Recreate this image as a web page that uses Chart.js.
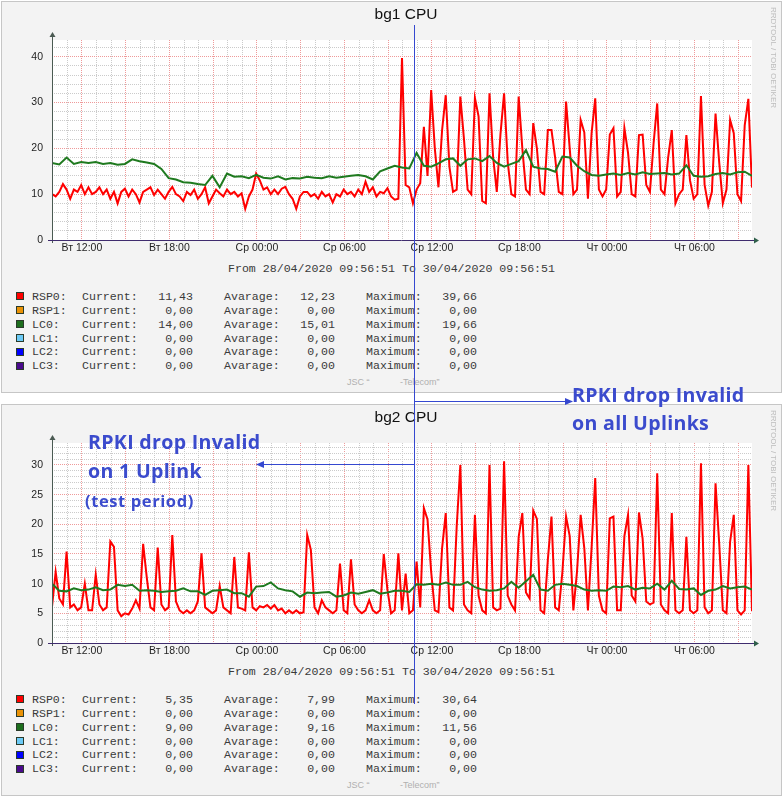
<!DOCTYPE html>
<html lang="ru">
<head>
<meta charset="utf-8">
<title>bg1 / bg2 CPU</title>
<script src="https://cdn.jsdelivr.net/npm/chart.js@4.4.1/dist/chart.umd.min.js"></script>
<style>
  html, body { margin: 0; padding: 0; background: #fff; }
  body { position: relative; width: 784px; height: 799px; overflow: hidden; font-family: "Liberation Sans", Arial, sans-serif; }
  .panel { position: absolute; left: 1px; width: 781px; height: 392px; box-sizing: border-box; background: #f3f3f3; border: 1px solid #c6c6c6; }
  canvas { position: absolute; left: 0; }
  .abs { position: absolute; white-space: pre; }
  .title { width: 200px; text-align: center; font-size: 15.5px; line-height: 18px; color: #111; }
  .mono { font-family: "Liberation Mono", "DejaVu Sans Mono", monospace; font-size: 11.6px; line-height: 14px; color: #3a3a3a; }
  .num { text-align: right; }
  .swatch { width: 8px; height: 8px; box-sizing: border-box; border: 1px solid #2a3a2a; }
  .brand { writing-mode: vertical-rl; font-size: 8px; line-height: 9px; color: #bdbdbd; }
  .mark { font-size: 9px; line-height: 11px; color: #b0b0b0; }
  .note { font-family: "Open Sans", sans-serif; font-weight: 700; color: #3b4bcd; letter-spacing: 0.3px; }
  svg { position: absolute; left: 0; top: 0; z-index: 5; }
</style>
</head>
<body>
<div class="panel" style="top:1px"></div>
<div class="panel" style="top:404px"></div>
<canvas id="bg1" width="784" height="262" style="top:0"></canvas>
<canvas id="bg2" width="784" height="262" style="top:403px"></canvas>

<svg width="784" height="799" viewBox="0 0 784 799">
  <g stroke="#3548d0" stroke-width="1" fill="none">
    <line x1="414.5" y1="25" x2="414.5" y2="704"/>
    <line x1="414.5" y1="401.5" x2="567" y2="401.5"/>
    <line x1="414.5" y1="464.5" x2="262" y2="464.5"/>
  </g>
  <polygon points="573,401.5 565,398 565,405" fill="#3548d0"/>
  <polygon points="256,464.5 264,461 264,468" fill="#3548d0"/>
</svg>

<script>
// time axis: 28/04/2020 09:56:51 .. 30/04/2020 09:56:51 (hours from start)
const spanHours = 48;
const firstFullHour = 0.0525;   // 10:00:00
const firstHourOfDay = 10;
const rspStepHours = 0.25;
const lcStepHours = 0.5;
const timeLabels = ['Вт 12:00', 'Вт 18:00', 'Ср 00:00', 'Ср 06:00', 'Ср 12:00', 'Ср 18:00', 'Чт 00:00', 'Чт 06:00'];

const bg1YLabels = [0, 10, 20, 30, 40];
const bg2YLabels = [0, 5, 10, 15, 20, 25, 30];

// bg1 RSP0, every 15 min
const bg1Rsp0 = [
  10, 9.5, 10.5, 12.2, 11, 9, 11, 10.5, 12, 10,
  11.5, 10, 10.5, 11.5, 10, 11, 9, 10.5, 8, 10.5,
  11.2, 9.5, 11, 10, 8.2, 10.5, 11, 11.5, 9.8, 11,
  10, 9, 10.5, 11.6, 10, 9.5, 8.5, 10.5, 9.8, 11,
  9, 10, 11.5, 8, 9.5, 11, 10.2, 9.5, 11, 10,
  10.5, 9.5, 10.2, 6.8, 9.5, 11, 14.5, 13, 11, 11.5,
  10, 11, 10, 11.2, 11.6, 10, 9, 6.8, 9.5, 10.5,
  10.5, 9.5, 10, 9, 10.5, 9.5, 10, 8.2, 10, 9.5,
  11, 10, 10.5, 9.5, 11, 10, 12.7, 10.5, 11.5, 9.5,
  10.5, 10.2, 11.3, 9.5, 8.8, 9, 39.7, 12, 11.5, 8,
  11, 12.4, 24.7, 14, 32.7, 20, 11.5, 24, 31.6, 16,
  10.5, 11, 31.3, 22, 11, 10, 31, 27, 8.5, 8,
  32, 18, 10.5, 23, 32, 17, 10, 9.5, 31.3, 20,
  11, 10, 25.5, 20, 10.5, 10, 24, 24, 18, 10.5,
  10, 30.2, 20, 10, 11, 26.2, 23.5, 9, 23.3, 30.9,
  11, 9.5, 11, 23, 24.4, 9.5, 10.5, 24.4, 19, 10,
  9.5, 22.9, 23, 12, 10.5, 21, 29.8, 11, 10, 18,
  24, 8, 10, 11, 22.9, 13, 9, 10, 31.4, 12,
  7.5, 10.5, 27.6, 17, 8, 11, 26.2, 23.3, 10, 8.5,
  25, 30.8, 11.43
];

// bg1 LC0, every 30 min
const bg1Lc0 = [
  16.8, 16.5, 18.0, 16.6, 17.0, 16.8, 17.0, 16.6, 16.8, 16.4,
  16.6, 17.6, 17.2, 16.9, 16.6, 15.5, 13.5, 13.2, 12.6, 12.5,
  12.2, 12.0, 14.0, 11.5, 14.5, 13.8, 13.9, 13.5, 14.2, 13.6,
  13.4, 13.9, 13.2, 13.5, 13.4, 13.8, 13.6, 13.5, 13.9, 13.6,
  13.8, 14.0, 14.2, 13.9, 13.2, 15.0, 15.6, 16.2, 15.8, 15.6,
  19.0, 16.2, 16.0, 16.7, 17.6, 17.8, 16.2, 17.6, 17.8, 17.2,
  18.3, 16.8, 16.0, 16.6, 17.2, 19.6, 16.0, 15.6, 15.5, 14.9,
  18.2, 18.0, 16.2, 15.0, 14.2, 14.0, 14.3, 14.5, 14.2, 14.6,
  14.3, 14.8, 14.4, 14.5, 14.6, 14.3, 14.5, 16.3, 14.0, 13.8,
  13.9, 14.4, 14.6, 14.3, 14.8, 14.9, 14.0
];

// bg2 RSP0, every 15 min
const bg2Rsp0 = [
  6.1, 12.0, 7.5, 6.5, 15.4, 6.0, 6.5, 5.5, 6.0, 10.0,
  5.5, 5.5, 11.5, 6.5, 5.5, 6.0, 17.1, 16.2, 5.5, 4.5,
  5.0, 4.8, 5.8, 7.2, 5.8, 16.7, 11.0, 6.0, 5.5, 16.1,
  6.5, 5.5, 6.0, 18.2, 7.0, 5.5, 5.0, 5.5, 5.0, 5.5,
  7.0, 15.1, 6.0, 5.5, 5.0, 5.5, 9.6, 6.0, 5.5, 5.0,
  14.5, 6.0, 5.8, 5.5, 15.3, 6.0, 5.5, 6.2, 6.0, 6.4,
  5.8, 6.4, 5.5, 5.8, 5.0, 5.5, 5.0, 5.5, 5.0, 5.2,
  18.2, 15.7, 6.0, 5.0, 7.2, 6.0, 5.5, 5.0, 5.5, 13.4,
  5.5, 5.0, 14.1, 6.5, 5.5, 5.0, 5.5, 7.2, 5.5, 5.0,
  5.5, 15.0, 9.0, 5.0, 5.5, 15.1, 5.5, 11.7, 5.0, 5.5,
  13.7, 6.0, 22.7, 20.8, 12.0, 5.5, 5.2, 16.0, 21.9, 6.0,
  5.5, 19.6, 30.0, 6.5, 5.5, 5.0, 21.6, 8.0, 5.5, 5.0,
  30.0, 6.0, 5.5, 5.8, 30.6, 8.0, 6.5, 5.5, 17.9, 21.9,
  8.5, 7.5, 22.3, 20.9, 5.5, 5.0, 14.0, 21.3, 6.0, 5.5,
  12.0, 21.3, 18.0, 5.5, 12.0, 21.6, 16.0, 5.5, 16.0, 27.8,
  8.0, 5.5, 5.0, 21.0, 21.3, 5.5, 5.5, 18.0, 21.6, 8.0,
  7.0, 22.0, 17.6, 7.0, 6.5, 6.8, 28.6, 6.5, 5.5, 5.0,
  21.9, 5.5, 5.0, 5.5, 17.9, 5.5, 5.0, 5.5, 30.3, 6.0,
  5.0, 5.5, 26.9, 16.8, 5.5, 5.0, 17.1, 21.6, 5.5, 4.8,
  5.5, 30.0, 5.35
];

// bg2 LC0, every 30 min
const bg2Lc0 = [
  10.0, 8.8, 8.7, 9.2, 8.9, 9.0, 9.4, 8.9, 9.0, 9.8,
  9.6, 9.8, 8.8, 8.9, 8.8, 8.6, 8.7, 8.8, 9.2, 8.7,
  8.7, 8.1, 8.8, 8.9, 9.0, 8.4, 8.4, 7.8, 9.5, 9.6,
  10.2, 9.2, 8.9, 8.7, 7.8, 8.5, 8.4, 8.5, 8.6, 7.8,
  8.0, 8.5, 8.3, 8.6, 8.9, 8.3, 8.5, 8.8, 8.8, 8.6,
  9.9, 9.8, 10.0, 9.8, 10.2, 9.8, 9.8, 10.3, 9.4, 9.0,
  8.8, 8.9, 9.2, 10.3, 9.3, 10.4, 11.5, 9.0, 8.8, 9.8,
  10.0, 9.8, 9.6, 9.0, 8.8, 8.9, 8.8, 9.5, 9.4, 9.6,
  9.0, 9.3, 9.2, 10.0, 9.0, 10.5, 9.1, 9.0, 9.2, 8.1,
  8.8, 9.0, 9.6, 9.2, 9.4, 9.5, 9.0
];

// legend
const seriesNames = ['RSP0', 'RSP1', 'LC0', 'LC1', 'LC2', 'LC3'];
const seriesColors = ['#ff0000', '#ea9206', '#1d6e1d', '#6ccaf6', '#0000ff', '#4a0a8c'];
const bg1Current = ['11,43', '0,00', '14,00', '0,00', '0,00', '0,00'];
const bg1Average = ['12,23', '0,00', '15,01', '0,00', '0,00', '0,00'];
const bg1Maximum = ['39,66', '0,00', '19,66', '0,00', '0,00', '0,00'];
const bg2Current = ['5,35', '0,00', '9,00', '0,00', '0,00', '0,00'];
const bg2Average = ['7,99', '0,00', '9,16', '0,00', '0,00', '0,00'];
const bg2Maximum = ['30,64', '0,00', '11,56', '0,00', '0,00', '0,00'];

const majorGrid = '#ef9a9a';
const minorGrid = '#cbcbcb';
const axisColorX = '#3f2c6e';
const axisColorY = '#4a5a52';

Chart.defaults.font.family = '"Liberation Sans", Arial, sans-serif';
Chart.defaults.font.size = 10.5;
Chart.defaults.color = '#1e1e1e';

const hourTicks = [];
for (let k = 0; firstFullHour + k < spanHours; k++) hourTicks.push(firstFullHour + k);

function hourIndex(v) { return Math.round(v - firstFullHour); }
function isMajorHour(v) { return (firstHourOfDay + hourIndex(v)) % 3 === 0; }
function timeLabelAt(v) {
  const k = hourIndex(v);
  if ((firstHourOfDay + k) % 6 !== 0) return '';
  return timeLabels[(k - 2) / 6] || '';
}

const rrdFrame = {
  id: 'rrdFrame',
  beforeDraw(chart) {
    const { ctx, chartArea: a } = chart;
    ctx.save();
    ctx.fillStyle = '#ffffff';
    ctx.fillRect(a.left, a.top, a.right - a.left, a.bottom - a.top);
    ctx.restore();
  },
  afterDraw(chart) {
    const { ctx, chartArea: a } = chart;
    const x0 = Math.round(a.left) + 0.5;
    const y0 = Math.round(a.bottom) + 0.5;
    ctx.save();
    ctx.lineWidth = 1;
    ctx.strokeStyle = axisColorY;
    ctx.beginPath();
    ctx.moveTo(x0, a.bottom + 3);
    ctx.lineTo(x0, a.top - 4);
    ctx.stroke();
    ctx.fillStyle = axisColorY;
    ctx.beginPath();
    ctx.moveTo(x0, a.top - 8);
    ctx.lineTo(x0 - 3, a.top - 3);
    ctx.lineTo(x0 + 3, a.top - 3);
    ctx.closePath();
    ctx.fill();
    ctx.strokeStyle = axisColorX;
    ctx.beginPath();
    ctx.moveTo(a.left - 4, y0);
    ctx.lineTo(a.right + 3, y0);
    ctx.stroke();
    ctx.fillStyle = '#2f5f4a';
    ctx.beginPath();
    ctx.moveTo(a.right + 7, y0);
    ctx.lineTo(a.right + 2, y0 - 3);
    ctx.lineTo(a.right + 2, y0 + 3);
    ctx.closePath();
    ctx.fill();
    ctx.restore();
  }
};

function drawCpuChart(id, rsp, lc, yMax, yMinorStep, yLabels) {
  const yLabelStep = yLabels[1] - yLabels[0];
  const yTicks = [];
  for (let v = 0; v <= yMax; v += yMinorStep) yTicks.push(v);

  return new Chart(document.getElementById(id), {
    type: 'line',
    data: {
      datasets: [
        {
          label: 'RSP0',
          data: rsp.map((v, i) => ({ x: i * rspStepHours, y: v })),
          borderColor: '#ff0000',
          borderWidth: 2,
          order: 2
        },
        {
          label: 'LC0',
          data: lc.map((v, i) => ({ x: i * lcStepHours, y: v })),
          borderColor: '#1f7a1f',
          borderWidth: 2,
          order: 1
        }
      ]
    },
    options: {
      responsive: false,
      animation: false,
      devicePixelRatio: 1,
      events: [],
      layout: { padding: { top: 40, right: 32, left: 0, bottom: 0 } },
      elements: { line: { tension: 0, fill: false }, point: { radius: 0 } },
      plugins: { legend: { display: false }, tooltip: { enabled: false } },
      scales: {
        x: {
          type: 'linear',
          min: 0,
          max: spanHours,
          afterBuildTicks: s => { s.ticks = hourTicks.map(v => ({ value: v })); },
          afterFit: s => { s.height = 22; },
          grid: {
            color: c => (c.tick && isMajorHour(c.tick.value)) ? majorGrid : minorGrid,
            drawTicks: false
          },
          border: { display: false, dash: [1, 1] },
          ticks: {
            autoSkip: false,
            maxRotation: 0,
            padding: 2,
            callback: v => timeLabelAt(v)
          }
        },
        y: {
          min: 0,
          max: yMax,
          afterBuildTicks: s => { s.ticks = yTicks.map(v => ({ value: v })); },
          afterFit: s => { s.width = 52; },
          grid: {
            color: c => (c.tick && c.tick.value > 0 && c.tick.value % yLabelStep === 0) ? majorGrid : minorGrid,
            drawTicks: false
          },
          border: { display: false, dash: [1, 1] },
          ticks: {
            autoSkip: false,
            padding: 9,
            callback: v => (yLabels.includes(v) ? String(v) : '')
          }
        }
      }
    },
    plugins: [rrdFrame]
  });
}

drawCpuChart('bg1', bg1Rsp0, bg1Lc0, 43.64, 2, bg1YLabels);
drawCpuChart('bg2', bg2Rsp0, bg2Lc0, 33.7, 1, bg2YLabels);

function addText(cls, text, left, top, style) {
  const d = document.createElement('div');
  d.className = 'abs ' + cls;
  d.textContent = text;
  d.style.left = left + 'px';
  d.style.top = top + 'px';
  if (style) Object.assign(d.style, style);
  document.body.appendChild(d);
  return d;
}

function drawPanelTexts(dy, title, current, average, maximum) {
  addText('title', title, 306, 5.3 + dy);
  addText('brand', 'RRDTOOL / TOBI OETIKER', 769, 7 + dy);
  addText('mono', 'From 28/04/2020 09:56:51 To 30/04/2020 09:56:51', 228, 261.7 + dy);
  seriesNames.forEach((name, k) => {
    const top = 290 + k * 13.85 + dy;
    addText('swatch', '', 16, top + 2.3, { background: seriesColors[k] });
    addText('mono', name + ':', 32, top);
    addText('mono', 'Current:', 82, top);
    addText('mono num', current[k], 133, top, { width: '60px' });
    addText('mono', 'Avarage:', 224, top);
    addText('mono num', average[k], 275, top, { width: '60px' });
    addText('mono', 'Maximum:', 366, top);
    addText('mono num', maximum[k], 417, top, { width: '60px' });
  });
  addText('mark', 'JSC \u201C', 347, 376.5 + dy);
  addText('mark', '-Telecom\u201D', 400, 376.5 + dy);
}

drawPanelTexts(0, 'bg1 CPU', bg1Current, bg1Average, bg1Maximum);
drawPanelTexts(403, 'bg2 CPU', bg2Current, bg2Average, bg2Maximum);

addText('note', 'RPKI drop Invalid\non all Uplinks', 572, 381, { fontSize: '19.6px', lineHeight: '28px' });
addText('note', 'RPKI drop Invalid\non 1 Uplink', 88, 426.6, { fontSize: '19.6px', lineHeight: '29.5px' });
addText('note', '(test period)', 85, 491, { fontSize: '16.5px', lineHeight: '20px', letterSpacing: '0.6px' });
</script>
</body>
</html>
